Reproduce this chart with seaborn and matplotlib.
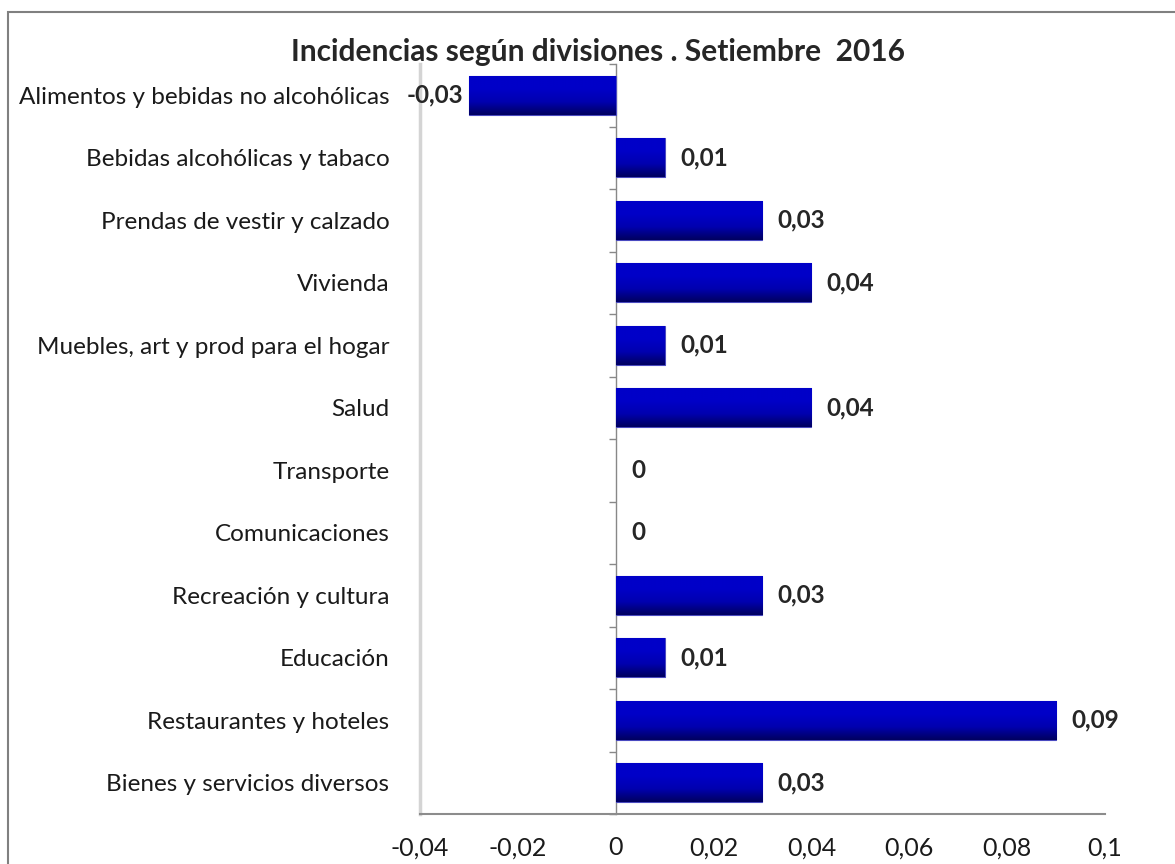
import numpy as np
import matplotlib
matplotlib.use("Agg")
import matplotlib.pyplot as plt
from matplotlib.patches import Rectangle
import seaborn as sns

# data
categories = [
    "Alimentos y bebidas no alcohólicas",
    "Bebidas alcohólicas y tabaco",
    "Prendas de vestir y calzado",
    "Vivienda",
    "Muebles, art y prod para el hogar",
    "Salud",
    "Transporte",
    "Comunicaciones",
    "Recreación y cultura",
    "Educación",
    "Restaurantes y hoteles",
    "Bienes y servicios diversos",
]
values = [-0.03, 0.01, 0.03, 0.04, 0.01, 0.04, 0.0, 0.0, 0.03, 0.01, 0.09, 0.03]
x_ticks = [-0.04, -0.02, 0, 0.02, 0.04, 0.06, 0.08, 0.1]
x_ticklabels = ["-0,04", "-0,02", "0", "0,02", "0,04", "0,06", "0,08", "0,1"]
title = "Incidencias según divisiones . Setiembre  2016"

sns.set_style("white")
plt.rcParams["font.family"] = ["Lato", "DejaVu Sans"]

fig = plt.figure(figsize=(11.75, 8.64), dpi=100)
ax = fig.add_axes([420 / 1175, 1 - 814 / 864, 685 / 1175, 750 / 864])

sns.barplot(x=values, y=categories, orient="h", color="#0000CC",
            width=0.63, ax=ax, saturation=1)

xmin, xmax = -0.04, 0.1
ax.set_xlim(xmin, xmax)

# gradient fill on each bar (bright blue on top, navy at the bottom)
grad = np.linspace(0, 1, 100).reshape(-1, 1)
cmap = matplotlib.colors.LinearSegmentedColormap.from_list(
    "bar", ["#0000C8", "#0000C8", "#0000B0", "#000060"])
for p in ax.patches:
    w = p.get_width()
    if w == 0:
        p.set_visible(False)
        continue
    x0, y0 = p.get_x(), p.get_y()
    h = p.get_height()
    p.set_edgecolor("#4a4ac0")
    p.set_linewidth(0.8)
    im = ax.imshow(grad, cmap=cmap, aspect="auto", interpolation="bicubic",
                   extent=[min(x0, x0 + w), max(x0, x0 + w), y0 + h, y0],
                   zorder=p.get_zorder() + 0.1)
    im.set_clip_path(p)
ax.set_xlim(xmin, xmax)
ax.set_ylim(len(categories) - 0.5, -0.5)

# data labels
for i, v in enumerate(values):
    txt = "0" if v == 0 else f"{v:.2f}".replace(".", ",")
    if v < 0:
        ax.annotate(txt, (v, i), xytext=(-4, 0), textcoords="offset points",
                    ha="right", va="center", fontsize=17.5, fontweight="bold")
    else:
        ax.annotate(txt, (v, i), xytext=(11, 0), textcoords="offset points",
                    ha="left", va="center", fontsize=17.5, fontweight="bold")

# category labels on the left
ax.set_ylabel("")
ax.set_xlabel("")
ax.tick_params(axis="y", length=0, pad=22, labelsize=17.5, labelcolor="#1a1a1a")
ax.set_xticks(x_ticks)
ax.set_xticklabels(x_ticklabels)
ax.tick_params(axis="x", direction="inout", length=6, width=1, color="#888888",
               pad=13, labelsize=18, labelcolor="#1a1a1a")

for s in ["top", "right"]:
    ax.spines[s].set_visible(False)
ax.spines["left"].set_color("#d4d4d4")
ax.spines["left"].set_linewidth(2.5)
ax.spines["bottom"].set_color("#8c8c8c")
ax.spines["bottom"].set_linewidth(1.5)

# vertical axis at zero with ticks between categories
zero_pos = (0 - xmin) / (xmax - xmin)
sec = ax.secondary_yaxis(zero_pos)
sec.set_yticks(np.arange(len(categories) + 1) - 0.5)
sec.set_yticklabels([])
sec.tick_params(axis="y", direction="out", length=5, color="#888888", width=1)
sec.spines["left"].set_color("#888888")
sec.spines["left"].set_linewidth(1)

fig.text(598 / 1175, 1 - 52 / 864, title, ha="center", va="center",
         fontsize=21.5, fontweight="bold")

# outer chart frame
fig.patches.append(Rectangle((8 / 1175, -0.05), 1.1, 1 - 12 / 864 + 0.05,
                             transform=fig.transFigure, fill=False,
                             edgecolor="#808080", linewidth=1.5))

fig.savefig("out.png", dpi=100)
